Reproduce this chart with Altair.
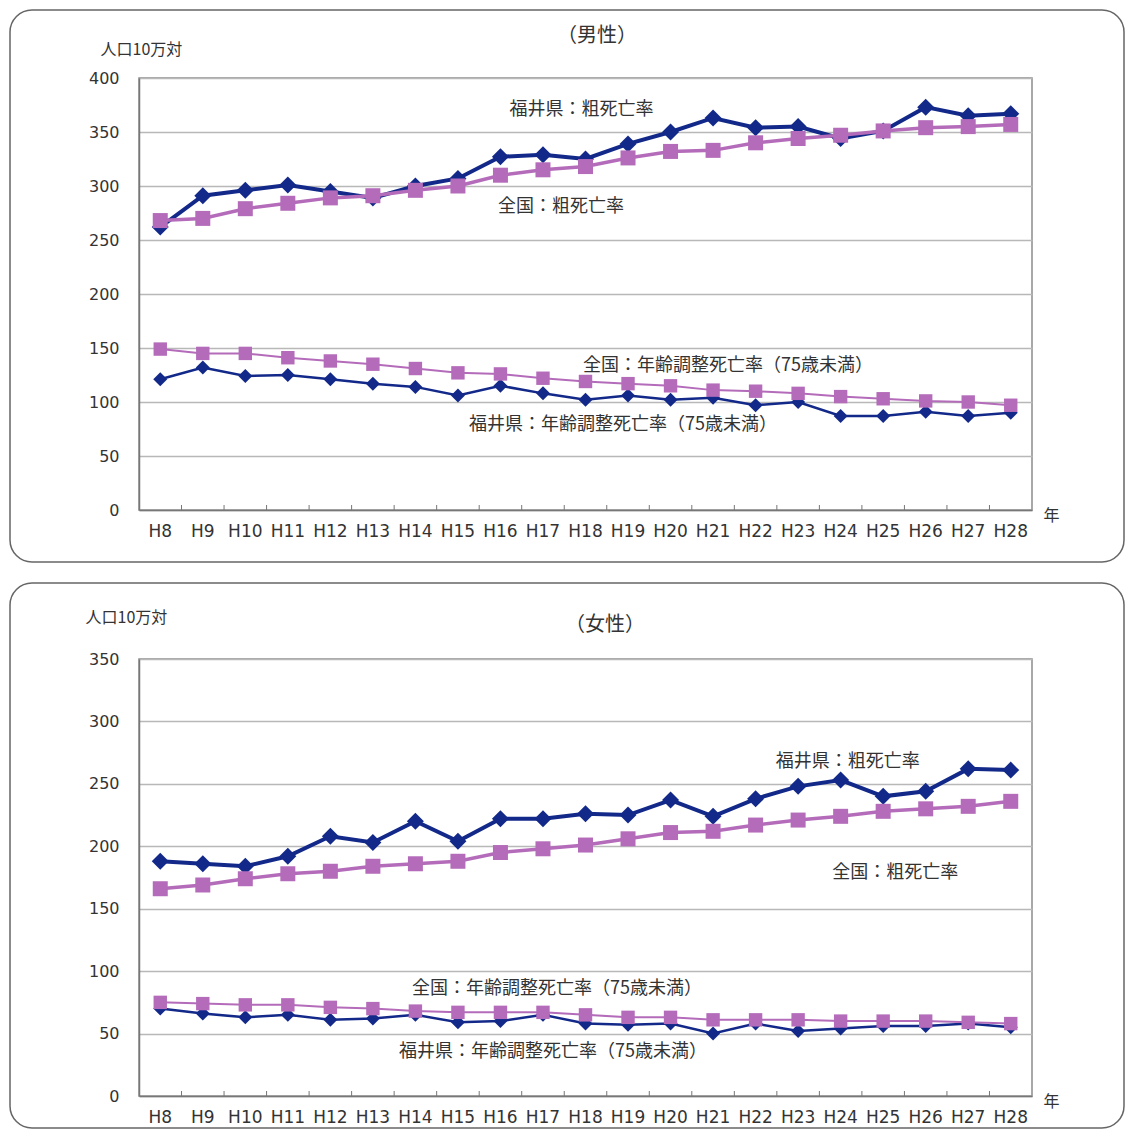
import altair as alt
import pandas as pd

# ---------------- data ----------------
years = ["H8", "H9", "H10", "H11", "H12", "H13", "H14", "H15", "H16", "H17", "H18",
         "H19", "H20", "H21", "H22", "H23", "H24", "H25", "H26", "H27", "H28"]

# 男性
male_fukui_crude = [262, 291, 296, 301, 295, 289, 300, 307, 327, 329, 325,
                    339, 350, 363, 354, 355, 344, 351, 373, 365, 367]
male_national_crude = [268, 270, 279, 284, 289, 291, 296, 300, 310, 315, 318,
                       326, 332, 333, 340, 344, 347, 351, 354, 355, 357]
male_fukui_adj = [121, 132, 124, 125, 121, 117, 114, 106, 115, 108, 102,
                  106, 102, 104, 97, 100, 87, 87, 91, 87, 90]
male_national_adj = [149, 145, 145, 141, 138, 135, 131, 127, 126, 122, 119,
                     117, 115, 111, 110, 108, 105, 103, 101, 100, 97]

# 女性
female_fukui_crude = [188, 186, 184, 192, 208, 203, 220, 204, 222, 222, 226,
                      225, 237, 224, 238, 248, 253, 240, 244, 262, 261]
female_national_crude = [166, 169, 174, 178, 180, 184, 186, 188, 195, 198, 201,
                         206, 211, 212, 217, 221, 224, 228, 230, 232, 236]
female_fukui_adj = [70, 66, 63, 65, 61, 62, 65, 59, 60, 65, 58,
                    57, 58, 50, 58, 52, 54, 56, 56, 58, 55]
female_national_adj = [75, 74, 73, 73, 71, 70, 68, 67, 67, 67, 65,
                       63, 63, 61, 61, 61, 60, 60, 60, 59, 58]

label_fukui_crude = "福井県：粗死亡率"
label_national_crude = "全国：粗死亡率"
label_national_adj = "全国：年齢調整死亡率（75歳未満）"
label_fukui_adj = "福井県：年齢調整死亡率（75歳未満）"

# ---------------- style ----------------
BLUE = "#13298a"
PURPLE = "#b46cba"
TXT = "#333333"
JP = "Noto Sans CJK JP"
LAT = "DejaVu Sans"
W = 893


def x_enc(band_pos=0.5):
    ax = alt.Axis(title="年", titleX=W + 11, titleY=5, titleAlign="left",
                  titleBaseline="middle", titleFont=JP, titleFontSize=16,
                  titleFontWeight="normal", titleColor=TXT,
                  labelAngle=0, labelFont=LAT, labelFontSize=17, labelColor=TXT,
                  labelPadding=13, ticks=False, grid=False,
                  domainColor="#777777", domainWidth=1.5)
    return alt.X("year:O", sort=years,
                 scale=alt.Scale(type="band", domain=years, paddingInner=0, paddingOuter=0),
                 bandPosition=band_pos, axis=ax)


def y_enc(ymax, tx, ty):
    ax = alt.Axis(values=list(range(0, ymax + 1, 50)), title="人口10万対",
                  titleAngle=0, titleAlign="left", titleBaseline="middle",
                  titleX=tx, titleY=ty, titleFont=JP, titleFontSize=16,
                  titleFontWeight="normal", titleColor=TXT,
                  labelFont=LAT, labelFontSize=16, labelColor=TXT, labelPadding=20,
                  ticks=False, grid=True, gridColor="#b8b8b8", gridWidth=1.5,
                  domainColor="#777777", domainWidth=1.5)
    return alt.Y("value:Q", scale=alt.Scale(domain=[0, ymax], nice=False), axis=ax)


def series_layers(vals, color, shape, lw, size, ymax, ytx, yty):
    df = pd.DataFrame({"year": years, "value": vals})
    base = alt.Chart(df)
    line = base.mark_line(color=color, strokeWidth=lw).encode(
        x=x_enc(), y=y_enc(ymax, ytx, yty))
    pts = base.mark_point(shape=shape, filled=True, size=size, color=color, opacity=1).encode(
        x=x_enc(), y=y_enc(ymax, ytx, yty))
    return [line, pts]


def annot(label, year, value, dx, ymax, ytx, yty):
    return alt.Chart(alt.Data(values=[{"year": year, "value": value, "label": label}])).mark_text(
        dx=dx, font=JP, fontSize=18, color=TXT, align="center", baseline="middle"
    ).encode(x=x_enc(), y=y_enc(ymax, ytx, yty), text="label:N")


def panel(title, title_x, title_y, ymax, H, ytx, yty, fc, nc, fa, na, notes,
          frame_top, frame_bottom):
    frame = alt.Chart(alt.Data(values=[{"a": 1}])).mark_rect(
        fill="white", fillOpacity=0, stroke="#666666", strokeWidth=1.5, cornerRadius=22
    ).encode(x=alt.value(-129), x2=alt.value(W + 92),
             y=alt.value(frame_top), y2=alt.value(H + frame_bottom))
    ticks = alt.Chart(pd.DataFrame({"year": years[1:], "value": [0] * 20})).mark_rule(
        color="#777777", strokeWidth=1
    ).encode(x=x_enc(0), y=alt.value(H), y2=alt.value(H - 5))
    ttl = alt.Chart(alt.Data(values=[{"t": title}])).mark_text(
        font=JP, fontSize=20, color=TXT, align="center", baseline="middle"
    ).encode(x=alt.value(title_x), y=alt.value(title_y), text="t:N")

    layers = [frame, ticks]
    layers += series_layers(fa, BLUE, "diamond", 2.5, 196, ymax, ytx, yty)
    layers += series_layers(na, PURPLE, "square", 2, 180, ymax, ytx, yty)
    layers += series_layers(fc, BLUE, "diamond", 4, 289, ymax, ytx, yty)
    layers += series_layers(nc, PURPLE, "square", 3.5, 225, ymax, ytx, yty)
    for lab, yr, v, dx in notes:
        layers.append(annot(lab, yr, v, dx, ymax, ytx, yty))
    layers.append(ttl)
    return alt.layer(*layers).properties(width=W, height=H)


top = panel("（男性）", 458, -42, 400, 432, -39, -29,
            male_fukui_crude, male_national_crude, male_fukui_adj, male_national_adj,
            [(label_fukui_crude, "H18", 370, -4),
             (label_national_crude, "H17", 281, 18),
             (label_national_adj, "H21", 133, 15),
             (label_fukui_adj, "H19", 79, -5)],
            -68, 52)

bottom = panel("（女性）", 466, -34, 350, 437, -54, -42,
               female_fukui_crude, female_national_crude, female_fukui_adj, female_national_adj,
               [(label_fukui_crude, "H24", 267.5, 7),
                (label_national_crude, "H25", 178.6, 12),
                (label_national_adj, "H17", 85.7, 14),
                (label_fukui_adj, "H17", 35.2, 10)],
               -76, 32)

chart = alt.vconcat(top, bottom, spacing=17).properties(
    padding=0, background="white"
).configure_view(stroke="#8c8c8c", strokeWidth=1.5)

chart.save("out.html", embed_options={"renderer": "svg", "actions": False})
